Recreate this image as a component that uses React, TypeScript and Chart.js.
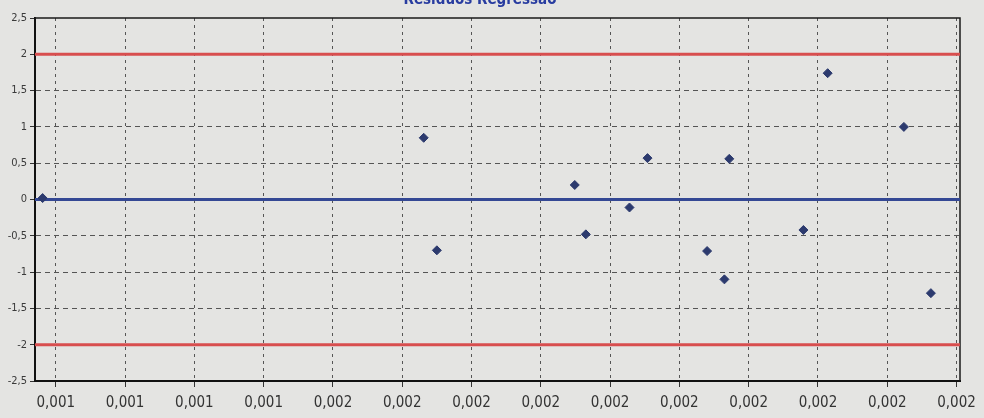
import React, { useEffect, useRef } from "react";
import { Chart, registerables } from "chart.js";

Chart.register(...registerables);

const titleText = "Resíduos Regressão";

const xTickValues = [
  0.0011, 0.0012, 0.0013, 0.0014, 0.0015, 0.0016, 0.0017,
  0.0018, 0.0019, 0.002, 0.0021, 0.0022, 0.0023, 0.0024,
];
const xTickLabels = [
  "0,001", "0,001", "0,001", "0,001", "0,002", "0,002", "0,002",
  "0,002", "0,002", "0,002", "0,002", "0,002", "0,002", "0,002",
];

const residualX = [
  0.001081, 0.001631, 0.00165, 0.001849, 0.001865, 0.001928, 0.001954,
  0.00204, 0.002065, 0.002072, 0.002179, 0.002214, 0.002324, 0.002363,
];
const residualY = [
  0.02, 0.85, -0.7, 0.2, -0.48, -0.11, 0.57,
  -0.71, -1.1, 0.56, -0.42, 1.74, 1.0, -1.29,
];

const upperLimit = 2;
const lowerLimit = -2;
const zeroLevel = 0;

const xMin = 0.00107;
const xMax = 0.002405;
const yMin = -2.5;
const yMax = 2.5;

const FONT = "'DejaVu Sans Condensed', 'Liberation Sans Narrow', 'DejaVu Sans', sans-serif";

const frame = {
  id: "frame",
  beforeDatasetsDraw(chart: any) {
    const { ctx, chartArea } = chart;
    ctx.save();
    ctx.strokeStyle = "#1a1a1a";
    ctx.lineWidth = 1.5;
    ctx.beginPath();
    ctx.moveTo(chartArea.left, chartArea.top);
    ctx.lineTo(chartArea.right, chartArea.top);
    ctx.lineTo(chartArea.right, chartArea.bottom);
    ctx.stroke();
    ctx.restore();
  },
};

const bg = {
  id: "bg",
  beforeDraw(chart: any) {
    const { ctx, width, height } = chart;
    ctx.save();
    ctx.fillStyle = "#e4e4e2";
    ctx.fillRect(0, 0, width, height);
    ctx.restore();
  },
};

export default function App() {
  const ref = useRef<HTMLCanvasElement | null>(null);

  useEffect(() => {
    if (!ref.current) return;
    const hline = (y: number) => [
      { x: xMin, y },
      { x: xMax, y },
    ];
    const chart = new Chart(ref.current, {
      type: "scatter",
      data: {
        datasets: [
          {
            type: "line",
            data: hline(upperLimit),
            borderColor: "rgb(216,78,78)",
            borderWidth: 3,
            pointRadius: 0,
            order: 3,
          },
          {
            type: "line",
            data: hline(lowerLimit),
            borderColor: "rgb(216,78,78)",
            borderWidth: 3,
            pointRadius: 0,
            order: 3,
          },
          {
            type: "line",
            data: hline(zeroLevel),
            borderColor: "rgb(52,72,148)",
            borderWidth: 3,
            pointRadius: 0,
            order: 2,
          },
          {
            type: "scatter",
            data: residualX.map((x, i) => ({ x, y: residualY[i] })),
            pointStyle: "rectRot",
            pointRadius: 4.5,
            backgroundColor: "rgb(44,58,110)",
            borderColor: "rgb(44,58,110)",
            borderWidth: 1,
            order: 1,
          },
        ],
      },
      options: {
        animation: false,
        responsive: true,
        maintainAspectRatio: false,
        layout: { padding: { right: 24, top: 0, left: 0, bottom: 0 } },
        plugins: {
          legend: { display: false },
          tooltip: { enabled: false },
          title: {
            display: true,
            text: titleText,
            color: "rgb(40,60,160)",
            font: { family: FONT, size: 15, weight: "bold" },
            padding: { top: 4, bottom: 9 },
          },
        },
        scales: {
          x: {
            type: "linear",
            min: xMin,
            max: xMax,
            afterBuildTicks: (scale: any) => {
              scale.ticks = xTickValues.map((v) => ({ value: v }));
            },
            afterFit: (scale: any) => {
              scale.height = 37;
            },
            ticks: {
              autoSkip: false,
              maxRotation: 0,
              minRotation: 0,
              padding: 7,
              color: "#333",
              font: { family: FONT, size: 15 },
              callback: (_v: any, i: number) => xTickLabels[i],
            },
            grid: {
              color: "#555",
              lineWidth: 1,
              tickLength: 6,
              tickColor: "#333",
            },
            border: { display: true, color: "#111", width: 2, dash: [3, 4] },
          },
          y: {
            min: yMin,
            max: yMax,
            afterFit: (scale: any) => {
              scale.width = 35;
            },
            ticks: {
              stepSize: 0.5,
              padding: 3,
              color: "#3a3a3a",
              font: { family: FONT, size: 11 },
              callback: (v: any) => String(v).replace(".", ","),
            },
            grid: {
              color: (ctx: any) => {
                const v = ctx.tick ? ctx.tick.value : 0;
                return Math.abs(v) === 2.5 ? "rgba(0,0,0,0)" : "#555";
              },
              lineWidth: 1,
              tickLength: 5,
              tickColor: "#333",
            },
            border: { display: true, color: "#111", width: 2, dash: [5, 4] },
          },
        },
      },
      plugins: [bg, frame],
    } as any);
    return () => chart.destroy();
  }, []);

  return (
    <div
      style={{
        position: "fixed",
        left: 0,
        top: 0,
        width: 984,
        height: 418,
        overflow: "hidden",
        background: "#e4e4e2",
      }}
    >
      <div style={{ position: "absolute", left: 0, top: -13, width: 984, height: 431 }}>
        <canvas ref={ref} />
      </div>
    </div>
  );
}
